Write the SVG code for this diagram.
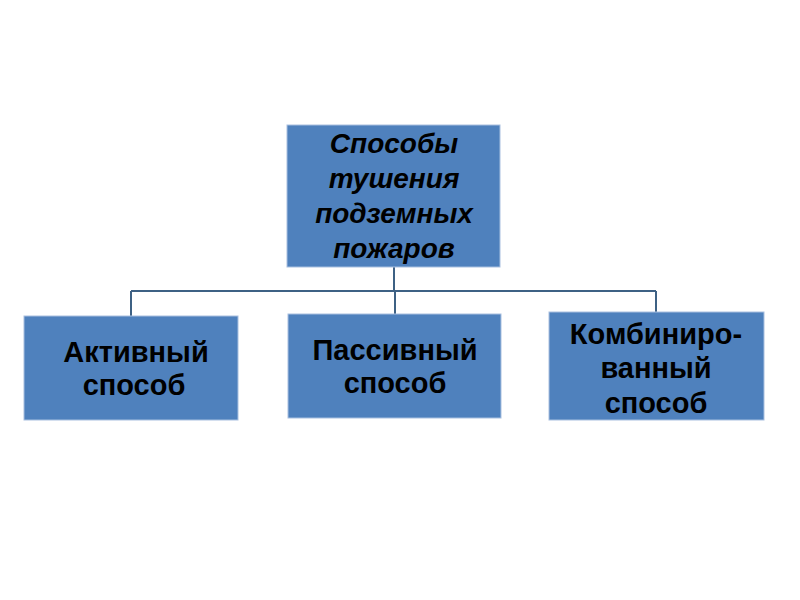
<svg xmlns="http://www.w3.org/2000/svg" width="800" height="600" viewBox="0 0 800 600">
<style>
.box{fill:#4f81bd;stroke:#a9c0e0;stroke-width:1}
.t{font-family:"Liberation Sans",Arial,sans-serif;font-weight:bold;fill:#000;text-anchor:middle}
.top{font-style:italic;font-size:28px}
.bot{font-size:29px}
.c{fill:none;stroke:#3e6184;stroke-width:2}
</style>
<rect width="800" height="600" fill="#fff"/>
<g id="connectors">
<path class="c" d="M394 267 V291 M131 291 H656 M131 291 V316 M395 291 V314 M656 291 V312"/>
</g>
<g id="root">
<rect class="box" x="287" y="125" width="213" height="142"/>
<text class="t top" x="394" y="153">Способы</text>
<text class="t top" x="394" y="188">тушения</text>
<text class="t top" x="394" y="223">подземных</text>
<text class="t top" x="394" y="258">пожаров</text>
</g>
<g id="active">
<rect class="box" x="24" y="316" width="214" height="104"/>
<text class="t bot" x="136" y="362">Активный</text>
<text class="t bot" x="134" y="395">способ</text>
</g>
<g id="passive">
<rect class="box" x="288" y="314" width="213" height="104"/>
<text class="t bot" x="395" y="360">Пассивный</text>
<text class="t bot" x="395" y="393">способ</text>
</g>
<g id="combined">
<rect class="box" x="549" y="312" width="215" height="108"/>
<text class="t bot" x="656" y="344">Комбиниро-</text>
<text class="t bot" x="656" y="378">ванный</text>
<text class="t bot" x="656" y="413">способ</text>
</g>
</svg>
